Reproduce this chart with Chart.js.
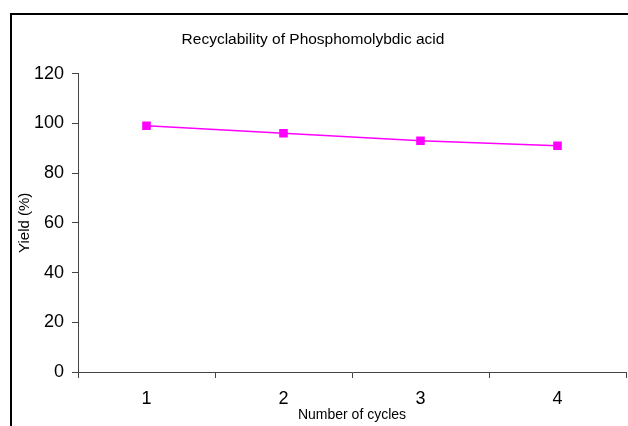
<!DOCTYPE html>
<html>
<head>
<meta charset="utf-8">
<script src="https://cdn.jsdelivr.net/npm/chart.js@4/dist/chart.umd.min.js"></script>
<style>
  html, body { margin: 0; padding: 0; background: #fff; }
  #wrap { width: 628px; height: 426px; position: relative; }
</style>
</head>
<body>
<div id="wrap"><canvas id="recycleChart"></canvas></div>
<script>
// data
const cycles = ['1', '2', '3', '4'];
const yieldValues = [99, 96, 93, 91];
const yTicks = [0, 20, 40, 60, 80, 100, 120];

const FONT = "'Liberation Sans', Arial, sans-serif";
const AXIS_COLOR = '#444';

// outer frame of the old spreadsheet chart (runs off the right / bottom edge)
const framePlugin = {
    id: 'frame',
    afterDraw(chart) {
        const ctx = chart.ctx;
        ctx.save();
        ctx.strokeStyle = '#000';
        ctx.lineWidth = 2;
        ctx.strokeRect(11, 14, chart.width + 20, chart.height + 20);
        ctx.restore();
    }
};

const ctx = document.getElementById('recycleChart').getContext('2d');
new Chart(ctx, {
    type: 'line',
    data: {
        labels: cycles,
        datasets: [{
            label: 'Yield',
            data: yieldValues,
            borderColor: '#ff00ff',
            backgroundColor: '#ff00ff',
            borderWidth: 1.5,
            pointStyle: 'rect',
            pointRadius: 5,
            pointHoverRadius: 5,
            tension: 0
        }]
    },
    options: {
        responsive: true,
        maintainAspectRatio: false,
        animation: false,
        // autoPadding would reserve room for the markers and squeeze the x axis
        layout: { autoPadding: false, padding: { left: 0, right: 2, top: 0, bottom: 0 } },
        plugins: {
            legend: { display: false },
            tooltip: { enabled: false },
            title: {
                display: true,
                text: 'Recyclability of Phosphomolybdic acid',
                color: '#000',
                font: { family: FONT, size: 15.5, weight: 'normal' },
                padding: { top: 30, bottom: 25 }
            }
        },
        scales: {
            x: {
                offset: true,
                grid: { offset: true, drawOnChartArea: false, color: AXIS_COLOR, tickLength: 6 },
                border: { color: AXIS_COLOR, width: 1 },
                ticks: { color: '#000', font: { family: FONT, size: 18 }, padding: 10 },
                title: {
                    display: true,
                    text: 'Number of cycles',
                    color: '#000',
                    font: { family: FONT, size: 14 },
                    padding: { top: 0, bottom: 2 }
                },
                afterFit(scale) {
                    scale.height = 54;
                    scale.paddingLeft = 0;
                    scale.paddingRight = 0;
                }
            },
            y: {
                min: 0,
                max: 120,
                afterBuildTicks(scale) { scale.ticks = yTicks.map(v => ({ value: v })); },
                grid: { drawOnChartArea: false, color: AXIS_COLOR, tickLength: 6 },
                border: { color: AXIS_COLOR, width: 1 },
                ticks: { color: '#000', font: { family: FONT, size: 18 }, padding: 8 },
                title: {
                    display: true,
                    text: 'Yield (%)',
                    color: '#000',
                    font: { family: FONT, size: 15 },
                    padding: { top: 16, bottom: 0 }
                },
                afterFit(scale) { scale.width = 78; }
            }
        }
    },
    plugins: [framePlugin]
});
</script>
</body>
</html>
